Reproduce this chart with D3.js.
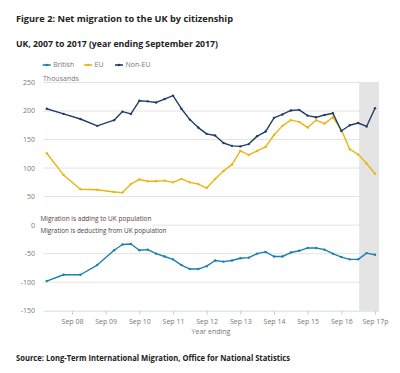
<!DOCTYPE html>
<html>
<head>
<meta charset="utf-8">
<script src="https://cdn.jsdelivr.net/npm/d3@7"></script>
<style>
  html, body { margin: 0; padding: 0; background: #fff; }
  svg { display: block; font-family: "Open Sans", "Noto Sans", sans-serif; }
</style>
</head>
<body>
<svg id="chart" width="400" height="373"></svg>
<script>
// ---- data (thousands), year ending ----
const periods = [
  "Dec 07","Jun 08","Dec 08","Jun 09","Dec 09",
  "Mar 10","Jun 10","Sep 10","Dec 10",
  "Mar 11","Jun 11","Sep 11","Dec 11",
  "Mar 12","Jun 12","Sep 12","Dec 12",
  "Mar 13","Jun 13","Sep 13","Dec 13",
  "Mar 14","Jun 14","Sep 14","Dec 14",
  "Mar 15","Jun 15","Sep 15","Dec 15",
  "Mar 16","Jun 16","Sep 16","Dec 16",
  "Mar 17","Jun 17","Sep 17"
];
const british = [
  -98, -87, -87, -70, -44,
  -34, -33, -44, -43,
  -50, -55, -60, -70,
  -77, -77, -72, -62,
  -64, -62, -58, -57,
  -50, -47, -55, -55,
  -48, -45, -40, -40,
  -43, -50, -56, -60,
  -60, -49, -52
];
const eu = [
  126, 88, 63, 62, 58,
  57, 72, 80, 77,
  77, 78, 75, 81,
  75, 72, 65, 81,
  95, 106, 130, 123,
  130, 137, 158, 174,
  184, 181, 171, 184,
  178, 189, 167, 133,
  124, 108, 90
];
const nonEU = [
  204, 195, 186, 174, 184,
  199, 195, 218, 217,
  215, 221, 227, 204,
  185, 171, 160, 157,
  144, 139, 138, 142,
  156, 164, 188, 194,
  201, 202, 192, 189,
  193, 196, 165, 175,
  179, 173, 205
];
const seriesNames = ["British", "EU", "Non-EU"];
const seriesColors = ["#1a80b0", "#e8b60f", "#1f3f66"];
const yTicks = [-150, -100, -50, 0, 50, 100, 150, 200, 250];
const xTickLabels = ["Sep 08","Sep 09","Sep 10","Sep 11","Sep 12","Sep 13","Sep 14","Sep 15","Sep 16","Sep 17p"];
const provisionalFrom = "Mar 17";

const titleText = "Figure 2: Net migration to the UK by citizenship";
const subtitleText = "UK, 2007 to 2017 (year ending September 2017)";
const unitText = "Thousands";
const xTitleText = "Year ending";
const noteAbove = "Migration is adding to UK population";
const noteBelow = "Migration is deducting from UK population";
const sourceText = "Source: Long-Term International Migration, Office for National Statistics";

// ---- helpers ----
const monthNum = {Mar: 3, Jun: 6, Sep: 9, Dec: 12};
function toT(label) {
  const parts = label.replace(/p$/, "").split(" ");
  return 2000 + (+parts[1]) + monthNum[parts[0]] / 12;
}

const svg = d3.select("#chart");
const L = 43, R = 379, T = 82.5, B = 310.7;

const x = d3.scaleLinear()
  .domain([toT("Sep 08") - (72 - L) / 33.667, toT("Sep 17") + (R - 375) / 33.667])
  .range([L, R]);
const y = d3.scaleLinear().domain([-150, 250]).range([B, T]);

// titles
svg.append("text").attr("x", 16).attr("y", 21.5)
  .attr("font-size", 9.6).attr("font-weight", 700).attr("fill", "#222")
  .attr("textLength", 217).attr("lengthAdjust", "spacingAndGlyphs")
  .text(titleText);
svg.append("text").attr("x", 16).attr("y", 46.5)
  .attr("font-size", 8.8).attr("font-weight", 700).attr("fill", "#222")
  .attr("textLength", 202).attr("lengthAdjust", "spacingAndGlyphs")
  .text(subtitleText);

// gridlines
const grid = svg.append("g");
grid.selectAll("line").data(yTicks.filter(d => d !== -150)).enter().append("line")
  .attr("x1", L).attr("x2", R)
  .attr("y1", d => y(d)).attr("y2", d => y(d))
  .attr("stroke", "#e3e3e3").attr("stroke-width", 1);

// provisional shading
svg.append("rect")
  .attr("x", x(toT(provisionalFrom)) + 1)
  .attr("y", y(250))
  .attr("width", x.range()[1] - x(toT(provisionalFrom)) - 1)
  .attr("height", y(-150) - y(250))
  .attr("fill", "#e4e4e4");

// y axis labels
svg.append("g").selectAll("text").data(yTicks).enter().append("text")
  .attr("x", 35).attr("y", d => y(d)).attr("dy", "0.35em")
  .attr("text-anchor", "end").attr("font-size", 7).attr("fill", "#777")
  .text(d => d);

// x axis
const xAxis = d3.axisBottom(x)
  .tickValues(xTickLabels.map(toT))
  .tickFormat((d, i) => xTickLabels[i])
  .tickSize(4).tickSizeOuter(0);
const gx = svg.append("g").attr("transform", `translate(0,${B})`).call(xAxis);
gx.select(".domain").attr("stroke", "#d6dde6");
gx.selectAll(".tick line").attr("stroke", "#c5d0db");
gx.selectAll(".tick text").attr("font-size", 7).attr("fill", "#777")
  .attr("font-family", "\"Open Sans\", sans-serif").attr("dy", "0.9em");

svg.append("text").attr("x", (L + R) / 2).attr("y", 334)
  .attr("text-anchor", "middle").attr("font-size", 7).attr("fill", "#777")
  .text(xTitleText);

svg.append("text").attr("x", L).attr("y", 80.5)
  .attr("font-size", 7).attr("fill", "#777").text(unitText);

// annotation labels with white background
const noteG = svg.append("g");
const bg = noteG.append("rect").attr("fill", "#fff");
noteG.append("text").attr("x", 40.5).attr("y", 221.3)
  .attr("font-size", 7).attr("fill", "#5b3b36")
  .attr("textLength", 111).attr("lengthAdjust", "spacingAndGlyphs").text(noteAbove);
noteG.append("text").attr("x", 40.5).attr("y", 232.8)
  .attr("font-size", 7).attr("fill", "#444")
  .attr("textLength", 126).attr("lengthAdjust", "spacingAndGlyphs").text(noteBelow);
bg.attr("x", 39.5).attr("y", y(0) - 2).attr("width", 113).attr("height", 4);

// series lines
const allSeries = [british, eu, nonEU];
const line = d3.line().x((d, i) => x(toT(periods[i]))).y(d => y(d));
allSeries.forEach((vals, k) => {
  svg.append("path").datum(vals)
    .attr("d", line).attr("fill", "none")
    .attr("stroke", seriesColors[k]).attr("stroke-width", 1.4)
    .attr("stroke-linejoin", "round");
  svg.append("g").selectAll("circle").data(vals).enter().append("circle")
    .attr("cx", (d, i) => x(toT(periods[i]))).attr("cy", d => y(d))
    .attr("r", 1.2).attr("fill", seriesColors[k]);
});

// legend
const legendX = [42.7, 84, 115];
const lg = svg.append("g");
seriesNames.forEach((name, k) => {
  const g = lg.append("g").attr("transform", `translate(${legendX[k]},65)`);
  g.append("line").attr("x1", 0).attr("x2", 8).attr("y1", 0).attr("y2", 0)
    .attr("stroke", seriesColors[k]).attr("stroke-width", 1.6);
  g.append("circle").attr("cx", 4).attr("cy", 0).attr("r", 1.3).attr("fill", seriesColors[k]);
  g.append("text").attr("x", 10.5).attr("y", 0).attr("dy", "0.35em")
    .attr("font-size", 7).attr("fill", "#777").text(name);
});

// source
svg.append("text").attr("x", 16).attr("y", 361.3)
  .attr("font-size", 8.2).attr("font-weight", 700).attr("fill", "#222")
  .attr("textLength", 274).attr("lengthAdjust", "spacingAndGlyphs")
  .text(sourceText);
</script>
</body>
</html>
